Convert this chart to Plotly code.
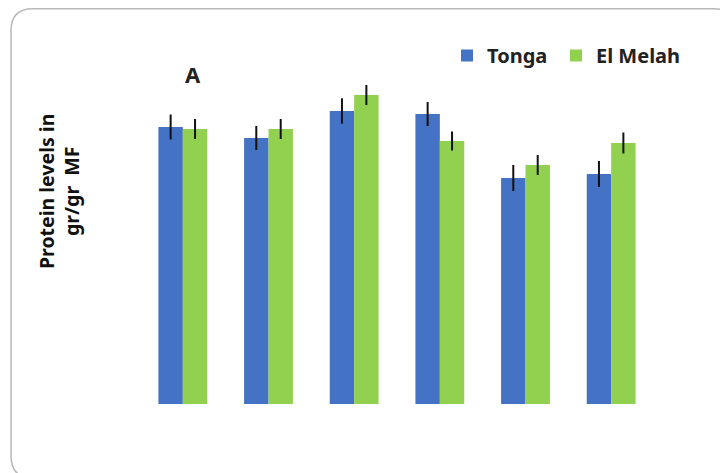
import plotly.graph_objects as go

categories = ["1", "2", "3", "4", "5", "6"]
tonga = [2.77, 2.66, 2.93, 2.90, 2.26, 2.30]
tonga_err = [0.125, 0.12, 0.127, 0.12, 0.13, 0.13]
el_melah = [2.75, 2.75, 3.09, 2.63, 2.39, 2.61]
el_melah_err = [0.10, 0.10, 0.10, 0.095, 0.10, 0.105]

OFF = 8  # default page body margin
W, H = 720, 465
L, R, T, B = 132, 74, 72, 69
pw, ph = W - L - R, H - T - B

def px(x):  # page pixel -> paper x
    return (x - OFF - L) / pw

def py(y):  # page pixel -> paper y
    return (H - B - (y - OFF)) / ph

fig = go.Figure()
fig.add_trace(go.Bar(
    x=categories, y=tonga, name="Tonga", legendwidth=64,
    marker=dict(color="#4472C4", line=dict(width=0)),
    error_y=dict(type="data", array=tonga_err, color="#111111", thickness=2, width=0),
))
fig.add_trace(go.Bar(
    x=categories, y=el_melah, name="El Melah", legendwidth=100,
    marker=dict(color="#92D050", line=dict(width=0)),
    error_y=dict(type="data", array=el_melah_err, color="#111111", thickness=2, width=0),
))

# rounded border (page coordinates)
x0, x1, y0, y1, r = 11, 736, 8.8, 478, 22
rx, ry = r / pw, r / ph
X0, X1, Y0, Y1 = px(x0), px(x1), py(y1), py(y0)
path = (f"M {X0+rx},{Y1} L {X1-rx},{Y1} Q {X1},{Y1} {X1},{Y1-ry} "
        f"L {X1},{Y0+ry} Q {X1},{Y0} {X1-rx},{Y0} L {X0+rx},{Y0} "
        f"Q {X0},{Y0} {X0},{Y0+ry} L {X0},{Y1-ry} Q {X0},{Y1} {X0+rx},{Y1} Z")
fig.add_shape(type="path", path=path, xref="paper", yref="paper",
              line=dict(color="#b8b8b8", width=1.5), layer="below")

fig.add_annotation(text="<b>A</b>", x=px(193), y=py(74), xref="paper", yref="paper",
                   xanchor="center", yanchor="middle",
                   showarrow=False, font=dict(size=22, color="#222222", family="Noto Sans"))
fig.add_annotation(text="<b>Protein levels in</b><br><b>gr/gr  MF</b>", x=px(59), y=py(192),
                   xref="paper", yref="paper", xanchor="center", yanchor="middle",
                   showarrow=False, textangle=-90,
                   font=dict(size=19.5, color="#111111", family="Noto Sans"),
                   align="center")

fig.update_layout(
    width=W, height=H,
    margin=dict(l=L, r=R, t=T, b=B),
    paper_bgcolor="white", plot_bgcolor="white",
    barmode="group", bargap=0.43, bargroupgap=0,
    showlegend=True,
    legend=dict(orientation="h", x=px(447), y=py(36), xanchor="left", yanchor="top",
                font=dict(size=20, color="#222222", family="Noto Sans", weight="bold"),
                itemwidth=30, bgcolor="rgba(0,0,0,0)", tracegroupgap=0),
    xaxis=dict(visible=False, range=[-0.5, 5.5]),
    yaxis=dict(visible=False, range=[0, 3.24]),
)

fig.write_html("out.html")
